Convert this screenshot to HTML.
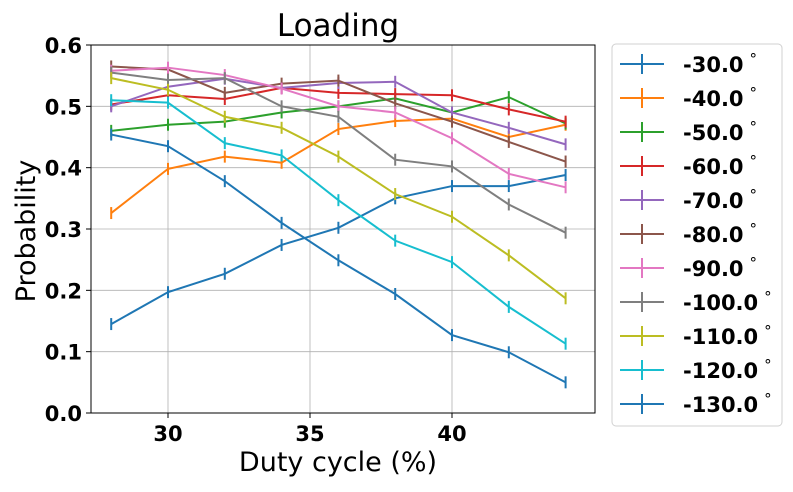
<!DOCTYPE html>
<html><head><meta charset="utf-8"><style>
body{margin:0;background:#fff;}
svg text{font-family:"DejaVu Sans","Liberation Sans",sans-serif;}
</style></head><body>
<svg id="chart" width="793" height="487" xmlns="http://www.w3.org/2000/svg"></svg>
<script>
const xValues=[28,30,32,34,36,38,40,42,44];
const seriesLabels=["-30.0","-40.0","-50.0","-60.0","-70.0","-80.0","-90.0","-100.0","-110.0","-120.0","-130.0"];
const colors=["#1f77b4","#ff7f0e","#2ca02c","#d62728","#9467bd","#8c564b","#e377c2","#7f7f7f","#bcbd22","#17becf","#1f77b4"];
const s30=[0.145,0.197,0.227,0.274,0.302,0.35,0.37,0.37,0.388];
const s40=[0.326,0.398,0.418,0.408,0.463,0.476,0.48,0.45,0.47];
const s50=[0.46,0.47,0.475,0.49,0.5,0.513,0.49,0.515,0.472];
const s60=[0.503,0.518,0.512,0.53,0.522,0.52,0.518,0.495,0.475];
const s70=[0.5,0.532,0.545,0.53,0.538,0.54,0.49,0.465,0.438];
const s80=[0.565,0.56,0.522,0.537,0.542,0.505,0.475,0.442,0.41];
const s90=[0.558,0.563,0.551,0.529,0.5,0.49,0.448,0.39,0.368];
const s100=[0.555,0.543,0.546,0.5,0.483,0.413,0.402,0.34,0.294];
const s110=[0.546,0.527,0.483,0.465,0.418,0.357,0.32,0.257,0.187];
const s120=[0.51,0.506,0.44,0.42,0.347,0.281,0.246,0.173,0.113];
const s130=[0.454,0.435,0.378,0.31,0.249,0.194,0.127,0.099,0.05];
const series=[s30,s40,s50,s60,s70,s80,s90,s100,s110,s120,s130];
const xTicks=[30,35,40];
const yTicks=[0,0.1,0.2,0.3,0.4,0.5,0.6];

const NS="http://www.w3.org/2000/svg";
const svg=document.getElementById('chart');
const L=91,R=595,T=45,B=413;
const xs=v=>168+(v-30)*(310-168)/5;
const ys=v=>B-v*(B-T)/0.6;
function el(t,a,p){const e=document.createElementNS(NS,t);for(const k in a)e.setAttribute(k,a[k]);(p||svg).appendChild(e);return e;}

xTicks.forEach(t=>{
 const g=el('line',{x1:xs(t),x2:xs(t),y1:T,y2:B,stroke:'#b0b0b0','stroke-width':0.8});
 
 
 el('line',{x1:xs(t),x2:xs(t),y1:B,y2:B+5,stroke:'#000'});
 const tx=el('text',{x:xs(t),y:B+28,'text-anchor':'middle','font-size':21,'font-weight':'bold'});
 tx.textContent=t;
 
 
});
yTicks.forEach(t=>{
 const g=el('line',{x1:L,x2:R,y1:ys(t),y2:ys(t),stroke:'#b0b0b0','stroke-width':0.8});
 
 
 el('line',{x1:L-5,x2:L,y1:ys(t),y2:ys(t),stroke:'#000'});
 const tx=el('text',{x:L-9,y:ys(t)+8,'text-anchor':'end','font-size':21,'font-weight':'bold'});
 tx.textContent=t.toFixed(1);
 
 
});
series.forEach((s,i)=>{
 const pts=s.map((v,j)=>xs(xValues[j])+','+ys(v)).join(' ');
 const pl=el('polyline',{points:pts,fill:'none',stroke:colors[i],'stroke-width':2});
 
 
 s.forEach((v,j)=>{
  const eb=el('line',{x1:xs(xValues[j]),x2:xs(xValues[j]),y1:ys(v)-6,y2:ys(v)+6,stroke:colors[i],'stroke-width':2});
  
  
 });
});
const frame=el('rect',{x:L,y:T,width:R-L,height:B-T,fill:'none',stroke:'#000','stroke-width':1});


const title=el('text',{x:338,y:36,'text-anchor':'middle','font-size':31});
title.textContent='Loading';


const xl=el('text',{x:338,y:471,'text-anchor':'middle','font-size':27});
xl.textContent='Duty cycle (%)';


const yl=el('text',{x:35,y:231,'text-anchor':'middle','font-size':27,transform:'rotate(-90 35 231)'});
yl.textContent='Probability';



const lg=el('rect',{x:612,y:44,width:170,height:382,rx:4,fill:'#fff',stroke:'#d0d0d0'});


seriesLabels.forEach((lab,i)=>{
 const y=64+i*34;
 const g=el('g',{});
 
 
 el('line',{x1:620,x2:664,y1:y,y2:y,stroke:colors[i],'stroke-width':2},g);
 el('line',{x1:642,x2:642,y1:y-10,y2:y+10,stroke:colors[i],'stroke-width':2},g);
 const t=el('text',{x:683,y:y+8,'font-size':21,'font-weight':'bold'},g);
 t.textContent=lab;
 const d=el('tspan',{dx:6,dy:-8,'font-size':15,'font-weight':'normal'},t);
 d.textContent='\u00b0';
});
</script>
</body></html>
